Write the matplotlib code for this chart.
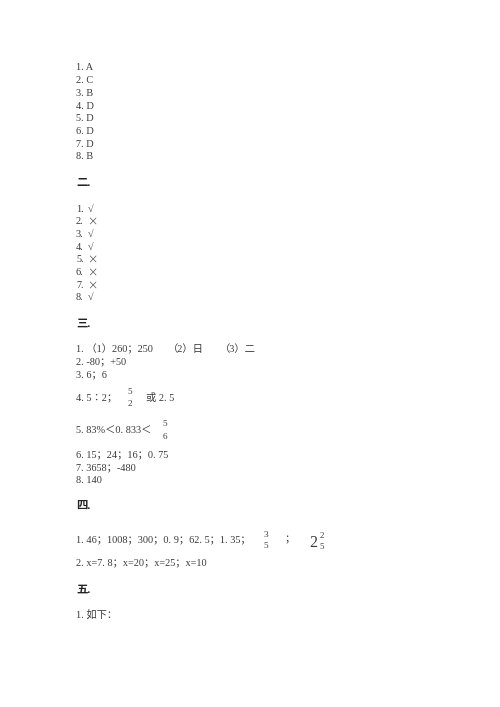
import matplotlib
matplotlib.use("Agg")
import matplotlib.pyplot as plt

W, H = 500, 707
plt.rcParams['font.family'] = ['Liberation Serif', 'Noto Sans CJK SC', 'DejaVu Sans']

# 一、选择
choice_answers = ["A", "C", "B", "D", "D", "D", "D", "B"]
# 二、判断
judge_answers = ["√", "×", "√", "√", "×", "×", "×", "√"]
# 三、填空
fill_q1 = ["1. （1）260；250", "（2）日", "（3）二"]
fill_q2 = "2. -80；+50"
fill_q3 = "3. 6；6"
fill_q4 = ["4. 5∶2；", ("5", "2"), "或 2. 5"]
fill_q5 = ["5. 83%＜0. 833＜", ("5", "6")]
fill_q6_8 = ["6. 15；24；16；0. 75", "7. 3658；-480", "8. 140"]
# 四、计算
calc_q1 = ["1. 46；1008；300；0. 9；62. 5；1. 35；", ("3", "5"), "；", ("2", "2", "5")]
calc_q2 = "2. x=7. 8；x=20；x=25；x=10"
# 五
draw_q1 = "1. 如下："
headings = ["二.", "三.", "四.", "五."]

fig = plt.figure(figsize=(W / 100, H / 100), dpi=100)
fig.patch.set_facecolor("white")

TXT = "#3a3a3a"
FS = 7.4
HFS = 8.2


def put(x, y, s, size=FS, bold=False, color=TXT, family=None):
    kw = {} if family is None else {"family": family}
    fig.text(x / W, 1 - y / H, s, fontsize=size, color=color, va="center", ha="left",
             fontweight="bold" if bold else "normal", **kw)


def frac(xc, y_top, y_bot, num, den, size=6.6):
    fig.text(xc / W, 1 - y_top / H, num, fontsize=size, color=TXT, va="center", ha="center")
    fig.text(xc / W, 1 - y_bot / H, den, fontsize=size, color=TXT, va="center", ha="center")


X0 = 76

# section 1
for i, a in enumerate(choice_answers):
    put(X0, 68 + i * 12.7, f"{i + 1}. {a}")

put(X0, 184, headings[0], size=HFS, bold=True, color="#222222")
for i, a in enumerate(judge_answers):
    y = 209 + i * 12.7
    put(X0, y, f"{i + 1}.")
    if a == "×":
        put(87, y, a, size=7.4, family=["Noto Sans CJK SC"], color="#555555")
    else:
        put(88, y, a, color="#555555")

put(X0, 324, headings[1], size=HFS, bold=True, color="#222222")
put(X0, 349, fill_q1[0])
put(168, 349, fill_q1[1])
put(220, 349, fill_q1[2])
put(X0, 362, fill_q2)
put(X0, 375, fill_q3)
put(X0, 398, fill_q4[0])
frac(130, 392, 404, *fill_q4[1])
put(146, 398, fill_q4[2])
put(X0, 430, fill_q5[0])
frac(165, 424, 437, *fill_q5[1])
for i, s in enumerate(fill_q6_8):
    put(X0, 455 + i * 12.7, s)

put(X0, 506, headings[2], size=HFS, bold=True, color="#222222")
put(X0, 540, calc_q1[0])
frac(266, 535, 546, *calc_q1[1])
put(284, 540, calc_q1[2])
whole, n, d = calc_q1[3]
put(309, 543, whole, size=11.5)
frac(322, 536, 547, n, d, size=6.4)
put(X0, 563, calc_q2)

put(X0, 590, headings[3], size=HFS, bold=True, color="#222222")
put(X0, 615, draw_q1)

fig.savefig("out.png", dpi=100, facecolor="white")
